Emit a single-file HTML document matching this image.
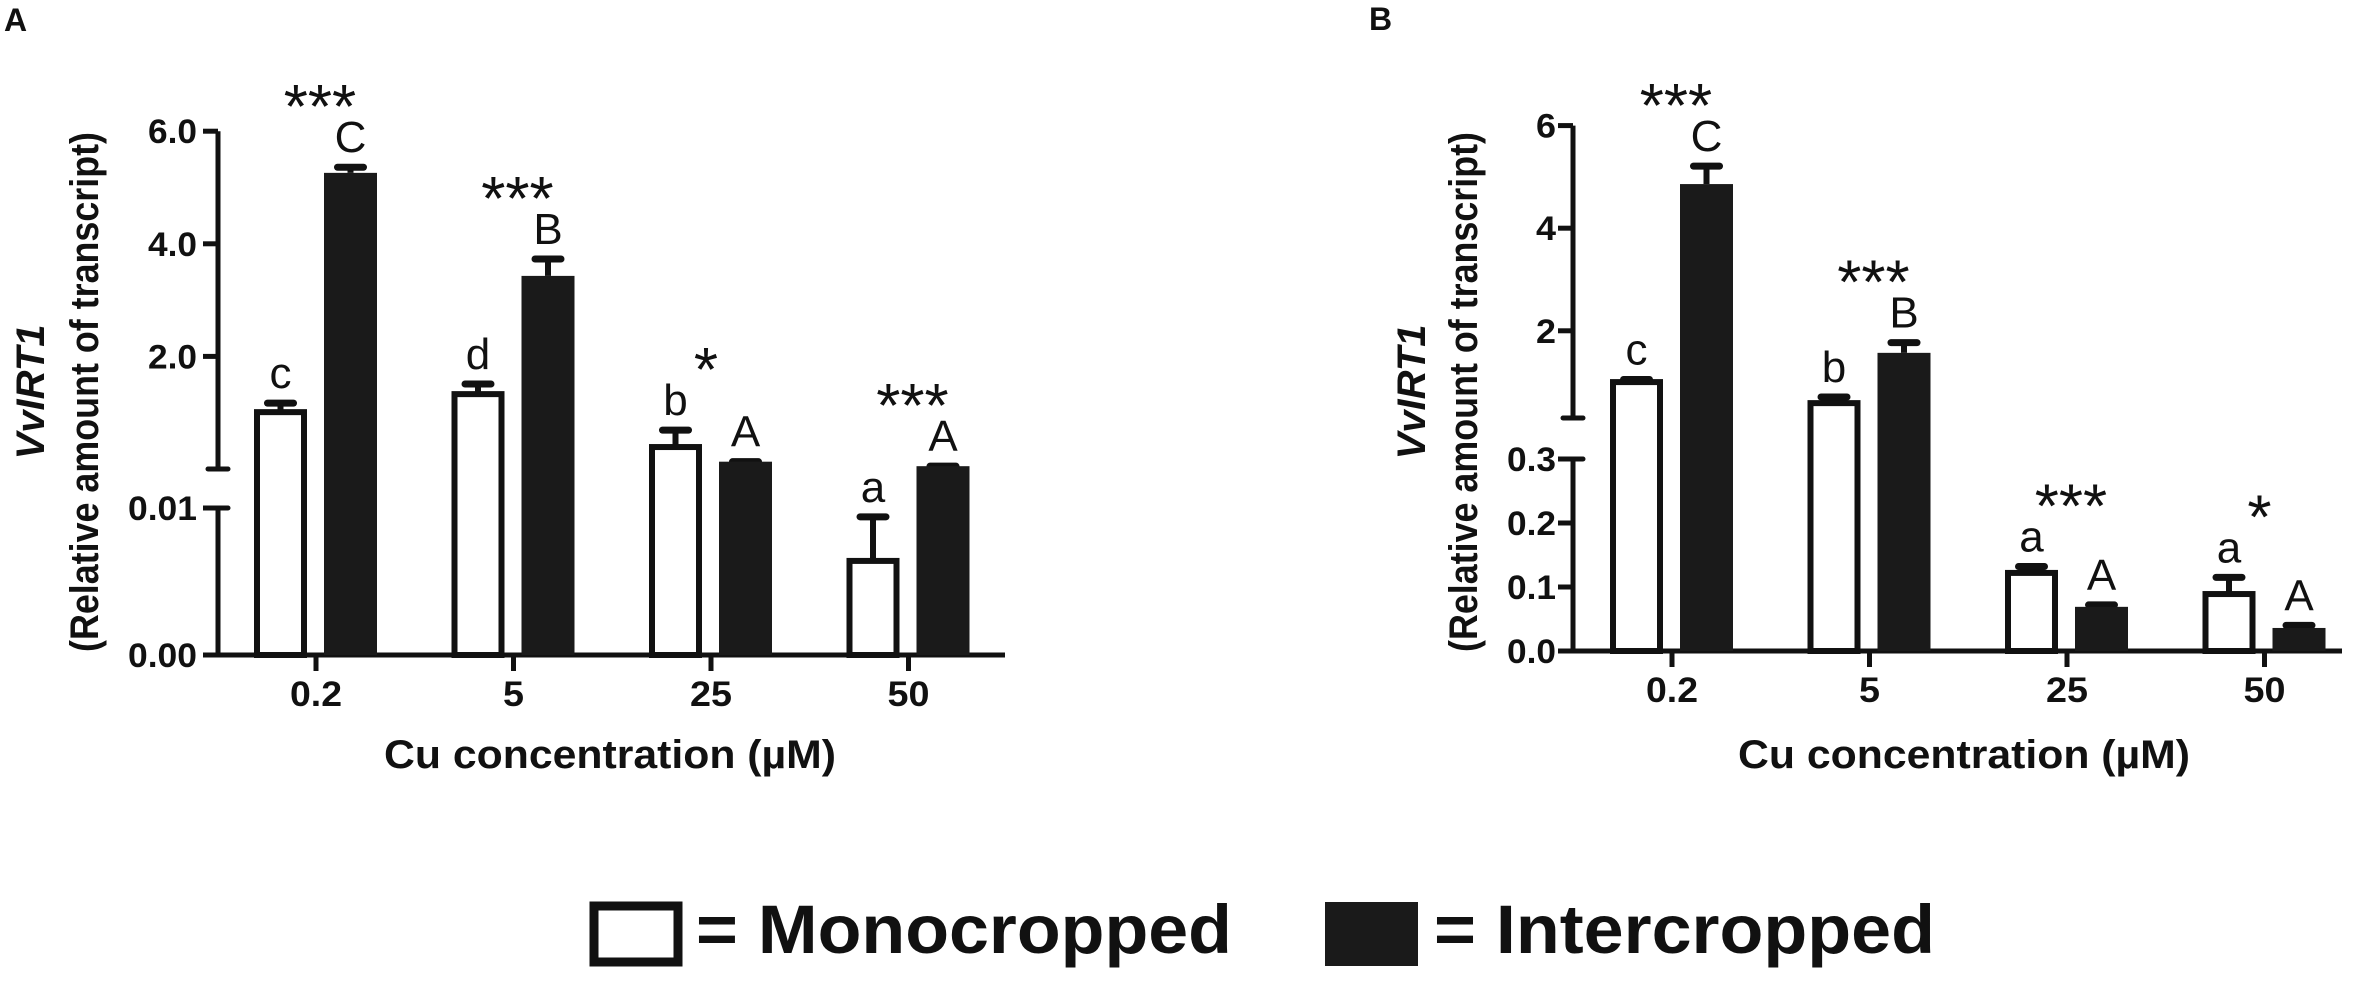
<!DOCTYPE html>
<html><head><meta charset="utf-8"><style>
html,body{margin:0;padding:0;background:#fff;}
svg{display:block;}
text{font-family:"Liberation Sans",Arial,sans-serif;fill:#111;}
</style></head>
<body>
<svg id="fig" width="2370" height="992" viewBox="0 0 2370 992" xmlns="http://www.w3.org/2000/svg">
  <text x="4" y="31" font-size="32" font-weight="bold">A</text>
  <text x="1369" y="30" font-size="32" font-weight="bold">B</text>
  <g id="pa"></g>
  <g id="pb"></g>
  <g>
    <rect x="594" y="906" width="84" height="56" fill="#fff" stroke="#111" stroke-width="9"/>
    <text x="696" y="953" font-size="69" font-weight="bold" textLength="536" lengthAdjust="spacingAndGlyphs">= Monocropped</text>
    <rect x="1325" y="902" width="93" height="64" fill="#1a1a1a"/>
    <text x="1434" y="953" font-size="69" font-weight="bold" textLength="501" lengthAdjust="spacingAndGlyphs">= Intercropped</text>
  </g>
</svg>
<script>
// ---- data ----
const categories = ["0.2","5","25","50"];
const monoA = [1.01, 1.33, 0.39, 0.0064];
const monoAErr = [0.16, 0.18, 0.30, 0.003];
const interA = [5.26, 3.43, 0.13, 0.05];
const interAErr = [0.1, 0.3, 0.0, 0.0];
const lettersMonoA = ["c","d","b","a"];
const lettersInterA = ["C","B","A","A"];
const sigA = ["***","***","*","***"];
const monoB = [1.0, 0.59, 0.122, 0.089];
const monoBErr = [0.05, 0.12, 0.01, 0.026];
const interB = [4.86, 1.57, 0.069, 0.036];
const interBErr = [0.35, 0.2, 0.003, 0.004];
const lettersMonoB = ["c","b","a","a"];
const lettersInterB = ["C","B","A","A"];
const sigB = ["***","***","***","*"];
const ticksAUpper = ["6.0","4.0","2.0"];
const ticksAUpperVals = [6,4,2];
const ticksALower = ["0.01","0.00"];
const ticksALowerVals = [0.01,0];
const ticksBUpper = ["6","4","2"];
const ticksBUpperVals = [6,4,2];
const ticksBLower = ["0.3","0.2","0.1","0.0"];
const ticksBLowerVals = [0.3,0.2,0.1,0];

const NS="http://www.w3.org/2000/svg";
function mk(parent,tag,attrs,txt){const e=document.createElementNS(NS,tag);for(const k in attrs)e.setAttribute(k,attrs[k]);if(txt!==undefined)e.textContent=txt;parent.appendChild(e);return e;}
function tl(s,d,p){let n=0,q=0;for(const ch of s){if(ch==='.')q++;else n++;}return n*d+q*p;}

function drawPanel(g,cfg){
  const {yFn,axisX,ticksUpper,ticksUpperVals,ticksLower,ticksLowerVals,upperTop,upperBot,lowerTop,base,xStart,xEnd,cats,mono,monoErr,inter,interErr,lm,li,sig,lblRight,titleX1,titleX2,xTitleX} = cfg;
  const xFn = i => xStart + i*197.5;
  let e=mk(g,'line',{x1:axisX,y1:upperTop,x2:axisX,y2:upperBot,stroke:'#111','stroke-width':5});
  
  
  e=mk(g,'line',{x1:axisX,y1:lowerTop,x2:axisX,y2:base,stroke:'#111','stroke-width':5});
  
  
  e=mk(g,'line',{x1:axisX-10,y1:upperBot,x2:axisX+10,y2:upperBot,stroke:'#111','stroke-width':5,'stroke-linecap':'round'});
  
  
  e=mk(g,'line',{x1:axisX,y1:lowerTop,x2:axisX+10,y2:lowerTop,stroke:'#111','stroke-width':5,'stroke-linecap':'round'});
  
  
  e=mk(g,'line',{x1:axisX-2,y1:base,x2:xEnd,y2:base,stroke:'#111','stroke-width':5});
  
  
  const allT=ticksUpper.concat(ticksLower), allV=ticksUpperVals.concat(ticksLowerVals);
  allT.forEach((t,i)=>{
    const up = i<ticksUpper.length;
    const y = yFn(allV[i], up);
    let l=mk(g,'line',{x1:axisX-15,y1:y,x2:axisX,y2:y,stroke:'#111','stroke-width':5});
    
    
    let tx=mk(g,'text',{x:lblRight,y:y+12,'font-size':34,'font-weight':'bold','text-anchor':'end',textLength:tl(t,20,9),lengthAdjust:'spacingAndGlyphs'},t);
    
    
  });
  cats.forEach((c,i)=>{
    const cx=xFn(i);
    let l=mk(g,'line',{x1:cx,y1:base,x2:cx,y2:base+16,stroke:'#111','stroke-width':5});
    
    
    let tx=mk(g,'text',{x:cx,y:base+51,'font-size':35,'font-weight':'bold','text-anchor':'middle',textLength:tl(c,21,10),lengthAdjust:'spacingAndGlyphs'},c);
    
    
    const mx=cx-62, ix=cx+8, w=53;
    const my=yFn(mono[i]), iy=yFn(inter[i]);
    let me=mk(g,'line',{x1:mx+w/2,y1:my,x2:mx+w/2,y2:yFn(mono[i]+monoErr[i]),stroke:'#111','stroke-width':6});
    
    
    let mc=mk(g,'line',{x1:mx+w/2-13,y1:yFn(mono[i]+monoErr[i]),x2:mx+w/2+13,y2:yFn(mono[i]+monoErr[i]),stroke:'#111','stroke-width':7,'stroke-linecap':'round'});
    
    
    let mb=mk(g,'rect',{x:mx+3,y:my,width:w-6,height:base-my,fill:'#fff',stroke:'#111','stroke-width':6});
    
    
    let ie=mk(g,'line',{x1:ix+w/2,y1:iy,x2:ix+w/2,y2:yFn(inter[i]+interErr[i]),stroke:'#111','stroke-width':6});
    
    
    let ic=mk(g,'line',{x1:ix+w/2-13,y1:yFn(inter[i]+interErr[i]),x2:ix+w/2+13,y2:yFn(inter[i]+interErr[i]),stroke:'#111','stroke-width':7,'stroke-linecap':'round'});
    
    
    let ib=mk(g,'rect',{x:ix,y:iy,width:w,height:base-iy,fill:'#1a1a1a'});
    
    
    const mTop=yFn(mono[i]+monoErr[i]), iTop=yFn(inter[i]+interErr[i]);
    let t1=mk(g,'text',{x:mx+w/2,y:mTop-15,'font-size':44,'text-anchor':'middle'},lm[i]);
    
    
    let t2=mk(g,'text',{x:ix+w/2,y:iTop-15,'font-size':44,'text-anchor':'middle'},li[i]);
    
    
    const lb=Math.min(mTop-15, iTop-15);
    const sx = sig[i]==='*' ? cx-5 : cx+4;
    let s=mk(g,'text',{x:sx,y:lb-24,'font-size':62,'text-anchor':'middle'},sig[i]);
    
    
  });
  let yt1=mk(g,'text',{x:0,y:0,'font-size':40,'font-weight':'bold','font-style':'italic','text-anchor':'middle',transform:`translate(${titleX1},392) rotate(-90)`},'VvIRT1');
  
  
  let yt2=mk(g,'text',{x:0,y:0,'font-size':40,'font-weight':'bold','text-anchor':'middle',textLength:520,lengthAdjust:'spacingAndGlyphs',transform:`translate(${titleX2},392) rotate(-90)`},'(Relative amount of transcript)');
  
  
  let xt=mk(g,'text',{x:xTitleX,y:768,'font-size':40,'font-weight':'bold','text-anchor':'middle',textLength:452,lengthAdjust:'spacingAndGlyphs'},'Cu concentration (µM)');
  
  
}

function yA(v,forceUpper){
  if(!forceUpper && v<=0.01) return 655 - v/0.01*147;
  return 469 - v*56.3;
}
function yB(v,forceUpper){
  if(!forceUpper && v<=0.3) return 651 - v*640;
  return 418 - (v-0.3)*51.3;
}
drawPanel(document.getElementById('pa'),{yFn:yA,axisX:218,ticksUpper:ticksAUpper,ticksUpperVals:ticksAUpperVals,ticksLower:ticksALower,ticksLowerVals:ticksALowerVals,upperTop:yA(6,true),upperBot:469,lowerTop:508,base:655,xStart:316,xEnd:1005,cats:categories,mono:monoA,monoErr:monoAErr,inter:interA,interErr:interAErr,lm:lettersMonoA,li:lettersInterA,sig:sigA,lblRight:197,titleX1:44,titleX2:98,xTitleX:610});
drawPanel(document.getElementById('pb'),{yFn:yB,axisX:1573,ticksUpper:ticksBUpper,ticksUpperVals:ticksBUpperVals,ticksLower:ticksBLower,ticksLowerVals:ticksBLowerVals,upperTop:yB(6,true),upperBot:418,lowerTop:459,base:651,xStart:1672,xEnd:2342,cats:categories,mono:monoB,monoErr:monoBErr,inter:interB,interErr:interBErr,lm:lettersMonoB,li:lettersInterB,sig:sigB,lblRight:1556,titleX1:1425,titleX2:1477,xTitleX:1964});
</script>
</body></html>
